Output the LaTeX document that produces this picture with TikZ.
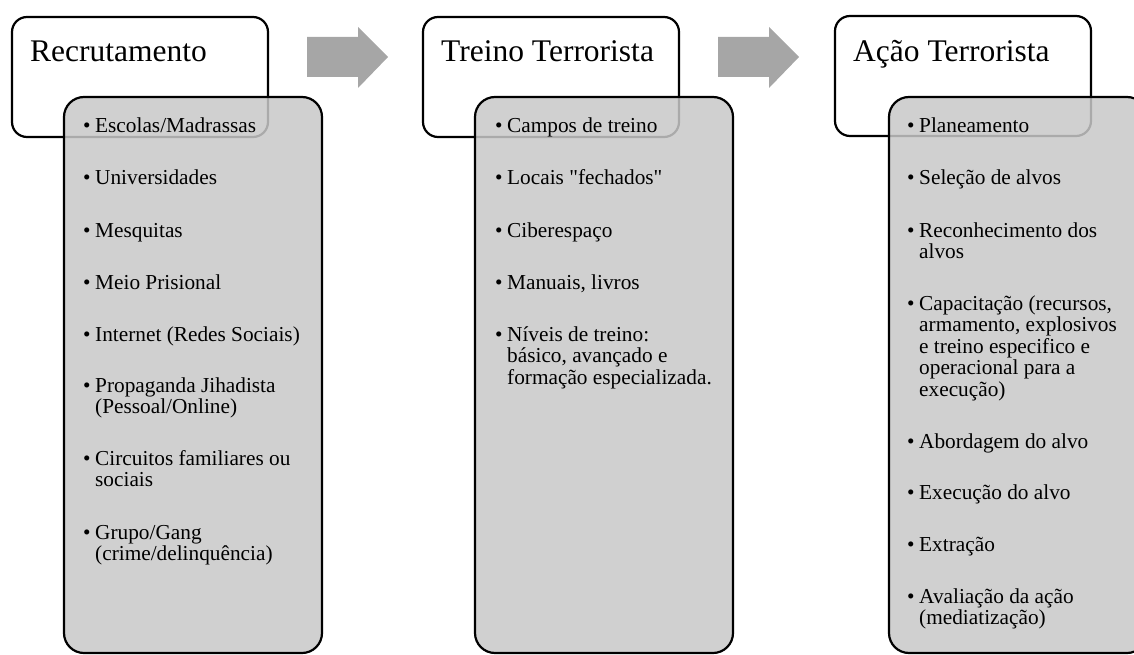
\documentclass[tikz,border=0pt]{standalone}
\usepackage{fontspec}
\setmainfont{Liberation Serif}
\usepackage{tikz}
\definecolor{cinzacaixa}{RGB}{200,200,200}
\definecolor{cinzaseta}{RGB}{166,166,166}
\newcommand\topico[1]{\makebox[12pt][l]{\textbullet}\begin{tabular}[t]{@{}l@{}}#1\end{tabular}}

\begin{document}
\begin{tikzpicture}[x=1pt, y=-1pt,
    cabeca/.style={draw, line width=2.2pt, rounded corners=15pt, fill=white, minimum width=256pt, minimum height=120pt, inner sep=0pt},
    lista/.style={draw, line width=2.2pt, rounded corners=20pt, fill=cinzacaixa, fill opacity=0.85, minimum width=258pt, minimum height=556pt, inner sep=0pt},
    titulo/.style={anchor=base west, inner sep=0pt, font=\fontsize{31.5}{32}\selectfont},
    topo/.style={anchor=base west, inner sep=0pt, font=\fontsize{21.3}{21.5}\selectfont},
    seta/.style={fill=cinzaseta}]
    \useasboundingbox (0,0) rectangle (1134,655);
    \clip (0,0) rectangle (1134,655);
    % setas entre as fases
    \foreach \x in {307,718} {\fill[seta] (\x,37) -- (\x+51,37) -- (\x+51,27) -- (\x+81,57) -- (\x+51,88) -- (\x+51,77) -- (\x,77) -- cycle;}
    % Recrutamento
    \node[cabeca] (cabRec) at (140,77) {};
    \node[lista] (lisRec) at (193,375) {};
    \node[titulo] (tRec) at (30,62) {Recrutamento};
    \node[topo] (rec1) at (83,133) {\topico{Escolas/Madrassas}};
    \node[topo] (rec2) at (83,185) {\topico{Universidades}};
    \node[topo] (rec3) at (83,237) {\topico{Mesquitas}};
    \node[topo] (rec4) at (83,289) {\topico{Meio Prisional}};
    \node[topo] (rec5) at (83,341) {\topico{Internet (Redes Sociais)}};
    \node[topo] (rec6) at (83,392) {\topico{Propaganda Jihadista\\(Pessoal/Online)}};
    \node[topo] (rec7) at (83,465) {\topico{Circuitos familiares ou\\sociais}};
    \node[topo] (rec8) at (83,539) {\topico{Grupo/Gang\\(crime/delinquência)}};
    % Treino Terrorista
    \node[cabeca] (cabTre) at (551,77) {};
    \node[lista] (lisTre) at (604,375) {};
    \node[titulo] (tTre) at (441,62) {Treino Terrorista};
    \node[topo] (tre1) at (495,133) {\topico{Campos de treino}};
    \node[topo] (tre2) at (495,185) {\topico{Locais \textquotedbl fechados\textquotedbl}};
    \node[topo] (tre3) at (495,237) {\topico{Ciberespaço}};
    \node[topo] (tre4) at (495,289) {\topico{Manuais, livros}};
    \node[topo] (tre5) at (495,341) {\topico{Níveis de treino:\\básico, avançado e\\formação especializada.}};
    % Ação Terrorista
    \node[cabeca] (cabAca) at (963,76) {};
    \node[lista] (lisAca) at (1018,375) {};
    \node[titulo] (tAca) at (853,62) {Ação Terrorista};
    \node[topo] (aca1) at (907,133) {\topico{Planeamento}};
    \node[topo] (aca2) at (907,185) {\topico{Seleção de alvos}};
    \node[topo] (aca3) at (907,237) {\topico{Reconhecimento dos\\alvos}};
    \node[topo] (aca4) at (907,310) {\topico{Capacitação (recursos,\\armamento, explosivos\\e treino especifico e\\operacional para a\\execução)}};
    \node[topo] (aca5) at (907,448) {\topico{Abordagem do alvo}};
    \node[topo] (aca6) at (907,499) {\topico{Execução do alvo}};
    \node[topo] (aca7) at (907,551) {\topico{Extração}};
    \node[topo] (aca8) at (907,603) {\topico{Avaliação da ação\\(mediatização)}};
\end{tikzpicture}
\end{document}
